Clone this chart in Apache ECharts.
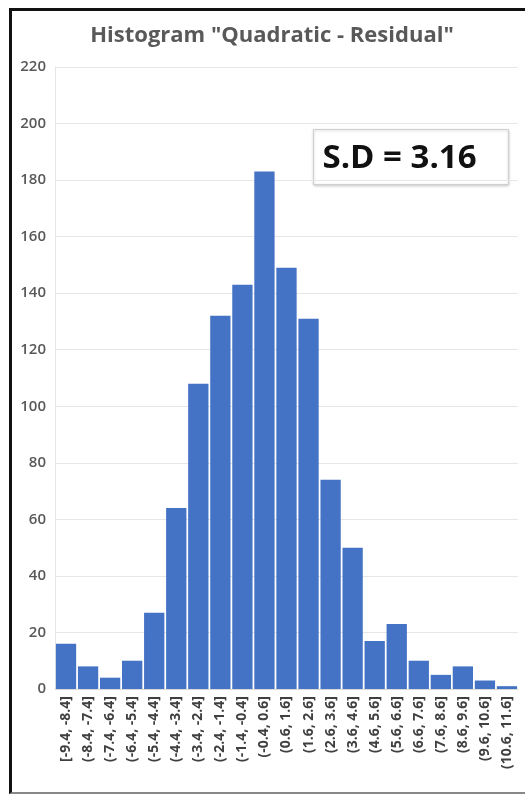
<!DOCTYPE html>
<html>
<head>
<meta charset="utf-8">
<script src="https://cdn.jsdelivr.net/npm/echarts@6/dist/echarts.min.js"></script>
<style>
  html, body { margin: 0; padding: 0; background: #fff; }
  #wrap { position: relative; width: 525px; height: 794px; }
  #chart { width: 525px; height: 794px; }
  #frame {
    position: absolute; left: 9px; top: 8px; width: 513px; height: 781px;
    border-left: 3px solid #111; border-top: 3px solid #111;
    border-bottom: 2px solid #888; pointer-events: none;
  }
</style>
</head>
<body>
<div id="wrap">
  <div id="chart"></div>
  <div id="frame"></div>
</div>
<script>
// bins of the residual histogram
var bins = [
  "[-9.4, -8.4]", "(-8.4, -7.4]", "(-7.4, -6.4]", "(-6.4, -5.4]", "(-5.4, -4.4]",
  "(-4.4, -3.4]", "(-3.4, -2.4]", "(-2.4, -1.4]", "(-1.4, -0.4]", "(-0.4, 0.6]",
  "(0.6, 1.6]", "(1.6, 2.6]", "(2.6, 3.6]", "(3.6, 4.6]", "(4.6, 5.6]",
  "(5.6, 6.6]", "(6.6, 7.6]", "(7.6, 8.6]", "(8.6, 9.6]", "(9.6, 10.6]", "(10.6, 11.6]"
];
var counts = [16, 8, 4, 10, 27, 64, 108, 132, 143, 183, 149, 131, 74, 50, 17, 23, 10, 5, 8, 3, 1];
var yTicks = [0, 220, 20]; // min, max, step
var titleText = 'Histogram "Quadratic - Residual"';
var sdText = "S.D = 3.16";

var chart = echarts.init(document.getElementById("chart"));
var font = "'Open Sans', 'Noto Sans', sans-serif";

var option = {
  animation: false,
  backgroundColor: "#fff",
  title: {
    text: titleText,
    left: 267,
    textAlign: "center",
    top: 20,
    textStyle: { fontFamily: font, fontSize: 22, fontWeight: "bold", color: "#595959" }
  },
  grid: { left: 55, right: 7, top: 67, bottom: 105 },
  xAxis: {
    type: "category",
    data: bins,
    axisLine: { lineStyle: { color: "#d9d9d9" } },
    axisTick: { show: false },
    axisLabel: {
      rotate: 90, interval: 0, margin: 7,
      fontFamily: font, fontSize: 14, fontWeight: "bold", color: "#404040"
    }
  },
  yAxis: {
    type: "value",
    min: yTicks[0], max: yTicks[1], interval: yTicks[2],
    axisLine: { show: true, lineStyle: { color: "#e6e6e6" } },
    axisTick: { show: false },
    splitLine: { lineStyle: { color: "#e6e6e6" } },
    axisLabel: { margin: 9, fontFamily: font, fontSize: 15, fontWeight: 600, color: "#595959" }
  },
  series: [{
    type: "bar",
    data: counts,
    barCategoryGap: "8%",
    itemStyle: { color: "#4472c4" }
  }],
  graphic: [{
    type: "group",
    left: 313, top: 129,
    children: [{
      type: "rect",
      shape: { x: 0, y: 0, width: 195, height: 55 },
      style: { fill: "#fff", stroke: "#cfcfcf", lineWidth: 1,
               shadowBlur: 3, shadowColor: "rgba(0,0,0,0.2)", shadowOffsetY: 1 }
    }, {
      type: "text",
      x: 9, y: 29,
      style: { text: sdText, font: "bold 33px " + font, fill: "#111", verticalAlign: "middle" }
    }]
  }]
};
chart.setOption(option);
</script>
</body>
</html>
